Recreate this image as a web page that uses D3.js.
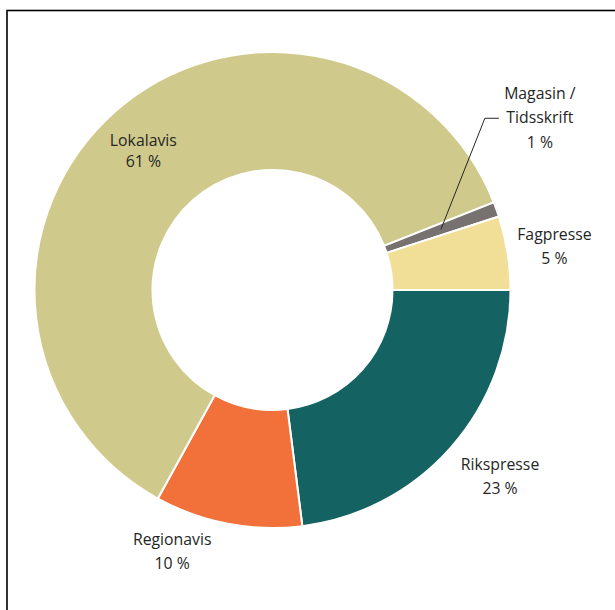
<!DOCTYPE html>
<html>
<head>
<meta charset="utf-8">
<script src="https://cdn.jsdelivr.net/npm/d3@7"></script>
<style>
  html, body { margin: 0; padding: 0; background: #fff; }
  svg { display: block; }
  text { font-family: "Open Sans", "Noto Sans", sans-serif; font-size: 15.8px; fill: #262626; }
</style>
</head>
<body>
<svg id="chart" width="615" height="610"></svg>
<script>
// Fordeling etter avistype (prosent)
const categories = ["Rikspresse", "Regionavis", "Lokalavis", "Magasin / Tidsskrift", "Fagpresse"];
const shares = [23, 10, 61, 1, 5];
const colors = ["#146262", "#f2713b", "#cfca8b", "#77716f", "#f2df97"];

const width = 615, height = 610;
const cx = 272.5, cy = 290;
const outerR = 238, innerR = 120;

const svg = d3.select("#chart");

// Ramme rundt figuren (åpen mot høyre og nederst)
svg.append("rect")
  .attr("x", 7).attr("y", 10.5)
  .attr("width", 640).attr("height", 640)
  .attr("fill", "none").attr("stroke", "#000").attr("stroke-width", 1.6);

const data = categories.map((c, i) => ({ name: c, value: shares[i], color: colors[i] }));

const pie = d3.pie()
  .value(d => d.value)
  .sort(null)
  .startAngle(Math.PI / 2)
  .endAngle(Math.PI / 2 + 2 * Math.PI);

const arcs = pie(data);

const arc = d3.arc().innerRadius(innerR).outerRadius(outerR);
const g = svg.append("g").attr("transform", `translate(${cx},${cy})`);

g.selectAll("path.slice")
  .data(arcs)
  .join("path")
  .attr("class", "slice")
  .attr("d", arc)
  .attr("fill", d => d.data.color)
  .attr("stroke", "#fff")
  .attr("stroke-width", 2)
  .attr("stroke-linejoin", "miter");

// Etiketter: plassert langs en etikettbue, med små justeringer
const labelArc = d3.arc().innerRadius(290).outerRadius(290);
const insideArc = d3.arc().innerRadius(190).outerRadius(190);
const nudge = {
  "Rikspresse": [10, -5],
  "Regionavis": [-46, -23],
  "Lokalavis": [-3.5, 6],
  "Magasin / Tidsskrift": [-5.5, -86],
  "Fagpresse": [-4.5, 2]
};

arcs.forEach(d => {
  const name = d.data.name;
  const inside = name === "Lokalavis";
  const lineGap = inside ? 21 : 24.5;
  const base = inside ? insideArc.centroid(d) : labelArc.centroid(d);
  const [dx, dy] = nudge[name];
  const x = base[0] + dx, y = base[1] + dy;
  const lines = name === "Magasin / Tidsskrift"
    ? ["Magasin /", "Tidsskrift", d.data.value + " %"]
    : [name, d.data.value + " %"];
  const t = g.append("text").attr("text-anchor", "middle");
  lines.forEach((ln, i) => {
    t.append("tspan").attr("x", x).attr("y", y - 7 + i * lineGap).text(ln);
  });

  if (name === "Magasin / Tidsskrift") {
    // Hjelpelinje fra den smale sektoren til etiketten
    const start = arc.centroid(d);
    const elbowY = y - 7 + lineGap - 5;
    const elbowX = x - 55;
    g.append("polyline")
      .attr("points", [start, [elbowX, elbowY], [elbowX + 14, elbowY]].map(p => p.join(",")).join(" "))
      .attr("fill", "none")
      .attr("stroke", "#262626")
      .attr("stroke-width", 1);
  }
});
</script>
</body>
</html>
